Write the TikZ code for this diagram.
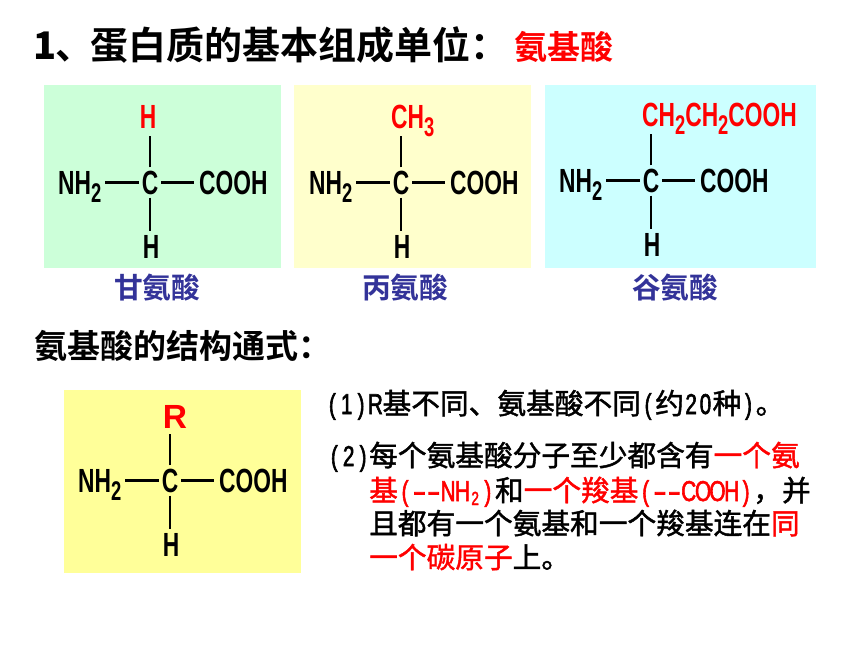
\documentclass[tikz,border=0pt]{standalone}
\usepackage{fontspec}
\setmainfont{Liberation Sans}
\newfontfamily\cjkreg[FakeBold=1.5]{Noto Sans CJK SC}
\newfontfamily\cjkbold{Noto Sans CJK SC Bold}
\newfontfamily\chemfont[FakeStretch=0.68]{Liberation Sans Bold}
\newfontfamily\halffont[FakeStretch=0.72,FakeBold=2]{Liberation Sans}
\definecolor{glygreen}{RGB}{204,255,217}
\definecolor{alacream}{RGB}{255,255,204}
\definecolor{gluaqua}{RGB}{204,255,255}
\definecolor{rgroup}{RGB}{255,255,153}
\definecolor{acidblue}{RGB}{51,51,153}
\newcommand{\chemsub}[1]{\raisebox{-8pt}{\fontsize{27}{27}\selectfont #1}}
\newcommand{\hb}[1]{\makebox[14.35pt]{\halffont #1}}
\newcommand{\hdash}{\makebox[14.35pt]{\halffont\scalebox{1.9}[1]{-}}}
\tikzset{
  chem/.style={inner sep=0pt, font=\chemfont\fontsize{33.5}{33.5}\selectfont},
  bond/.style={line width=2.1pt, black},
  headline/.style={inner sep=0pt, anchor=base west, font=\cjkbold\fontsize{38}{38}\selectfont},
  acidname/.style={inner sep=0pt, anchor=base west, acidblue, font=\cjkbold\fontsize{28.7}{28.7}\selectfont},
  bodyline/.style={inner sep=0pt, anchor=base west, font=\cjkreg\fontsize{28.7}{28.7}\selectfont},
}
\begin{document}
\begin{tikzpicture}[x=1pt,y=-1pt]
  \useasboundingbox (0,0) rectangle (860,645);
  \fill[glygreen]  ( 44, 85) rectangle (281,268);
  \fill[alacream]  (294, 85) rectangle (531,268);
  \fill[gluaqua]   (545, 85) rectangle (816,268);
  \fill[rgroup]    ( 64,390) rectangle (301,573);
  % headings
  \node[headline] (title) at (33,59) {{\bfseries 1}\kern-1pt、\kern-3pt蛋白质的基本组成单位：};
  \node[headline, red, font=\cjkbold\fontsize{33}{33}\selectfont] (titleacid) at (514,59) {氨基酸};
  \node[headline, font=\cjkbold\fontsize{33}{33}\selectfont] (formula) at (34,358) {氨基酸的结构通式：};
  % glycine
  \node[chem, anchor=base] (glyc) at (150,194) {C};
  \node[chem, anchor=base west] (glyn) at (58,194) {NH\chemsub{2}};
  \node[chem, anchor=base west] (glyo) at (199,194) {COOH};
  \node[chem, anchor=base, red] (glyr) at (148,128) {H};
  \node[chem, anchor=base] (glyh) at (151,258) {H};
  \draw[bond] ([xshift=-3pt]glyc.west) -- ([xshift=3pt]glyc.west -| glyn.east);
  \draw[bond] ([xshift=3pt]glyc.east) -- ([xshift=-5pt]glyc.east -| glyo.west);
  \draw[bond] ([yshift=3pt]glyc.north) -- ([yshift=-8pt]glyc.north |- glyr.south);
  \draw[bond] ([yshift=-3pt]glyc.south) -- ([yshift=4pt]glyc.south |- glyh.north);
  \node[acidname] (glyname) at (114,298) {甘氨酸};
  % alanine
  \node[chem, anchor=base] (alac) at (401,194) {C};
  \node[chem, anchor=base west] (alan) at (309,194) {NH\chemsub{2}};
  \node[chem, anchor=base west] (alao) at (450,194) {COOH};
  \node[chem, anchor=base west, red] (alar) at (391,128) {CH\chemsub{3}};
  \node[chem, anchor=base] (alah) at (402,258) {H};
  \draw[bond] ([xshift=-3pt]alac.west) -- ([xshift=3pt]alac.west -| alan.east);
  \draw[bond] ([xshift=3pt]alac.east) -- ([xshift=-5pt]alac.east -| alao.west);
  \draw[bond] ([yshift=3pt]alac.north) -- ([yshift=-8pt]alac.north |- alar.base);
  \draw[bond] ([yshift=-3pt]alac.south) -- ([yshift=4pt]alac.south |- alah.north);
  \node[acidname] (alaname) at (362,298) {丙氨酸};
  % glutamic acid
  \node[chem, anchor=base] (gluc) at (651,192) {C};
  \node[chem, anchor=base west] (glun) at (559,192) {NH\chemsub{2}};
  \node[chem, anchor=base west] (gluo) at (700,192) {COOH};
  \node[chem, anchor=base west, red] (glur) at (642,126) {CH\chemsub{2}CH\chemsub{2}COOH};
  \node[chem, anchor=base] (gluh) at (652,256) {H};
  \draw[bond] ([xshift=-3pt]gluc.west) -- ([xshift=3pt]gluc.west -| glun.east);
  \draw[bond] ([xshift=3pt]gluc.east) -- ([xshift=-5pt]gluc.east -| gluo.west);
  \draw[bond] ([yshift=3pt]gluc.north) -- ([yshift=-8pt]gluc.north |- glur.base);
  \draw[bond] ([yshift=-3pt]gluc.south) -- ([yshift=4pt]gluc.south |- gluh.north);
  \node[acidname] (gluname) at (632,298) {谷氨酸};
  % general formula
  \node[chem, anchor=base] (genc) at (170,492) {C};
  \node[chem, anchor=base west] (genn) at (78,492) {NH\chemsub{2}};
  \node[chem, anchor=base west] (geno) at (219,492) {COOH};
  \node[inner sep=0pt, anchor=base, red, font=\bfseries\fontsize{33.5}{33.5}\selectfont] (genr) at (175,428) {R};
  \node[chem, anchor=base] (genh) at (171,556) {H};
  \draw[bond] ([xshift=-3pt]genc.west) -- ([xshift=3pt]genc.west -| genn.east);
  \draw[bond] ([xshift=3pt]genc.east) -- ([xshift=-5pt]genc.east -| geno.west);
  \draw[bond] ([yshift=3pt]genc.north) -- ([yshift=-6pt]genc.north |- genr.south);
  \draw[bond] ([yshift=-3pt]genc.south) -- ([yshift=4pt]genc.south |- genh.north);
  % remarks
  \node[bodyline] (noteone) at (325,414) {\hb{(}\hb{1}\hb{)}\hb{R}基不同、氨基酸不同\hb{(}约\hb{2}\hb{0}种\hb{)}。};
  \node[bodyline] (notetwo) at (327,466) {\hb{(}\hb{2}\hb{)}};
  \node[bodyline] (lineone) at (369,466) {每个氨基酸分子至少都含有\textcolor{red}{一个氨}};
  \node[bodyline] (linetwo) at (369,501) {\textcolor{red}{基\hb{(}\hdash\hdash\hb{N}\hb{H}\raisebox{-4pt}{\makebox[11pt]{\halffont\fontsize{19}{19}\selectfont 2}}\hb{)}}和\textcolor{red}{一个羧基\hb{(}\hdash\hdash\hb{C}\hb{O}\hb{O}\hb{H}\hb{)}}，并};
  \node[bodyline] (linethree) at (369,534) {且都有一个氨基和一个羧基连在\textcolor{red}{同}};
  \node[bodyline] (linefour) at (369,568) {\textcolor{red}{一个碳原子}上。};
\end{tikzpicture}
\end{document}
